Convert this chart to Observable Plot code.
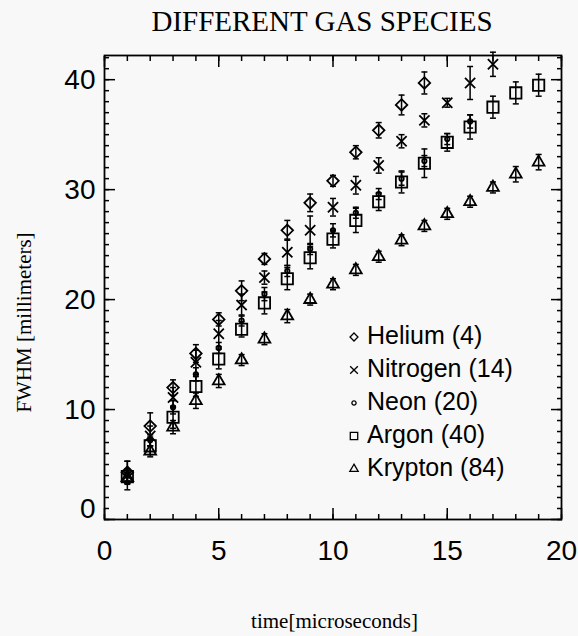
<!DOCTYPE html>
<html>
<head>
<meta charset="utf-8">
<script src="https://cdn.jsdelivr.net/npm/d3@7"></script>
<script src="https://cdn.jsdelivr.net/npm/@observablehq/plot@0.6"></script>
<style>
  html, body { margin: 0; padding: 0; background: #f8f8f8; }
  #wrap { position: relative; width: 578px; height: 636px; overflow: hidden; }
  #title { position: absolute; top: 7px; left: 322px; transform: translateX(-50%);
           font-family: "Liberation Serif", "DejaVu Serif", serif; font-size: 29px; line-height: 29px;
           white-space: nowrap; color: #000; }
  #legend { position: absolute; left: 0; top: 0; width: 578px; height: 636px; pointer-events: none; }
  .lrow { position: absolute; left: 346px; height: 33px; width: 200px; }
  .lrow svg { position: absolute; left: 0; top: 10px; }
  .lrow span { position: absolute; left: 21px; top: 0; font-family: "Liberation Sans", Arial, sans-serif;
               font-size: 25px; line-height: 33px; white-space: nowrap; color: #000; }
</style>
</head>
<body>
<div id="wrap">
  <div id="chart"></div>
  <div id="title">DIFFERENT GAS SPECIES</div>
  <div id="legend"></div>
</div>
<script>
// ---- data ----
const time = [1, 2, 3, 4, 5, 6, 7, 8, 9, 10, 11, 12, 13, 14, 15, 16, 17, 18, 19];

const helium      = [4.3, 8.5, 12.0, 15.1, 18.2, 20.8, 23.7, 26.3, 28.8, 30.8, 33.4, 35.4, 37.7, 39.7];
const heliumErr   = [1.0, 1.2, 0.7, 0.8, 0.6, 0.9, 0.5, 0.9, 0.8, 0.5, 0.6, 0.7, 0.9, 1.0];

const nitrogen    = [4.0, 7.6, 11.1, 14.3, 16.9, 19.5, 22.0, 24.3, 26.3, 28.4, 30.4, 32.2, 34.4, 36.3, 37.9, 39.7, 41.4];
const nitrogenErr = [1.3, 0.9, 0.9, 1.1, 1.2, 1.0, 0.6, 1.2, 1.3, 0.8, 0.8, 0.7, 0.6, 0.6, 0.4, 1.5, 1.1];

const neon        = [4.0, 7.2, 10.2, 13.2, 15.6, 18.1, 20.5, 22.6, 24.6, 26.3, 27.9, 29.6, 31.0, 32.6, 34.6, 36.2];
const neonErr     = [0.5, 0.5, 0.6, 0.6, 0.5, 0.5, 0.6, 0.5, 0.5, 0.6, 0.5, 0.5, 0.6, 0.5, 0.5, 0.6];

const argon       = [3.9, 6.7, 9.3, 12.1, 14.6, 17.3, 19.7, 21.9, 23.8, 25.5, 27.2, 28.9, 30.7, 32.4, 34.3, 35.7, 37.5, 38.8, 39.5];
const argonErr    = [0.7, 0.8, 1.0, 0.9, 0.9, 0.7, 1.0, 1.0, 1.0, 0.8, 1.1, 0.8, 1.0, 1.3, 0.8, 1.1, 1.0, 1.0, 1.0];

const krypton     = [3.8, 6.2, 8.4, 10.8, 12.6, 14.5, 16.4, 18.5, 20.0, 21.4, 22.7, 23.9, 25.4, 26.7, 27.8, 28.9, 30.2, 31.4, 32.5];
const kryptonErr  = [0.5, 0.5, 0.6, 0.7, 0.6, 0.5, 0.5, 0.6, 0.5, 0.5, 0.5, 0.5, 0.5, 0.5, 0.5, 0.5, 0.5, 0.7, 0.7];

const seriesNames = ["Helium (4)", "Nitrogen (14)", "Neon (20)", "Argon (40)", "Krypton (84)"];
const xMajorTicks = [0, 5, 10, 15, 20];
const yMajorTicks = [0, 10, 20, 30, 40];
const xMinorTicks = d3.range(0, 21, 1);
const yMinorTicks = d3.range(0, 43, 1);
const xLabel = "time[microseconds]";
const yLabel = "FWHM [millimeters]";

// ---- build ----
const specs = [
  {name: seriesNames[4], vals: krypton,  errs: kryptonErr,  symbol: "triangle2", r: 5.6},
  {name: seriesNames[3], vals: argon,    errs: argonErr,    symbol: "square2",   r: 7.2},
  {name: seriesNames[2], vals: neon,     errs: neonErr,     symbol: "circle",    r: 2.2},
  {name: seriesNames[1], vals: nitrogen, errs: nitrogenErr, symbol: "times",     r: 4.7},
  {name: seriesNames[0], vals: helium,   errs: heliumErr,   symbol: "diamond2",  r: 5.2}
];
const rows = specs.flatMap(s => s.vals.map((v, i) => ({series: s.name, t: time[i], v, e: s.errs[i]})));

const capSymbol = {draw(ctx, size) { const w = Math.sqrt(size / Math.PI); ctx.moveTo(-w, 0); ctx.lineTo(w, 0); }};
const sans = "Liberation Sans, Arial, sans-serif";
const serif = "Liberation Serif, DejaVu Serif, serif";
const blank = () => "";

const marks = [
  Plot.frame({stroke: "black", strokeWidth: 1.8}),
  // inward ticks, all four sides
  Plot.axisX(xMinorTicks, {anchor: "bottom", tickSize: -5, tickFormat: blank, label: null, strokeWidth: 1.5}),
  Plot.axisX(xMajorTicks, {anchor: "bottom", tickSize: -11, tickFormat: blank, label: null, strokeWidth: 1.5}),
  Plot.axisX(xMinorTicks, {anchor: "top", tickSize: -5, tickFormat: blank, label: null, strokeWidth: 1.5}),
  Plot.axisX(xMajorTicks, {anchor: "top", tickSize: -11, tickFormat: blank, label: null, strokeWidth: 1.5}),
  Plot.axisY(yMinorTicks, {anchor: "left", tickSize: -5, tickFormat: blank, label: null, strokeWidth: 1.5}),
  Plot.axisY(yMajorTicks, {anchor: "left", tickSize: -11, tickFormat: blank, label: null, strokeWidth: 1.5}),
  Plot.axisY(yMinorTicks, {anchor: "right", tickSize: -5, tickFormat: blank, label: null, strokeWidth: 1.5}),
  Plot.axisY(yMajorTicks, {anchor: "right", tickSize: -11, tickFormat: blank, label: null, strokeWidth: 1.5}),
  // tick labels
  Plot.axisX(xMajorTicks, {anchor: "bottom", tickSize: 0, tickPadding: 21, fontSize: 28, fontFamily: sans, label: null}),
  Plot.axisY(yMajorTicks.filter(d => d !== 0), {anchor: "left", tickSize: 0, tickPadding: 9, fontSize: 28, fontFamily: sans, label: null}),
  Plot.axisY(yMajorTicks.filter(d => d === 0), {anchor: "left", tickSize: 0, tickPadding: 9, dy: -10, fontSize: 28, fontFamily: sans, label: null}),
  // axis titles
  Plot.text([xLabel], {frameAnchor: "bottom", dy: 108, dx: 1.5, lineAnchor: "bottom", fontSize: 21, fontFamily: serif}),
  Plot.text([yLabel], {frameAnchor: "left", textAnchor: "middle", rotate: -90, dx: -80, dy: 35, fontSize: 21, fontFamily: serif}),
  // error bars
  Plot.ruleX(rows, {x: "t", y1: d => d.v - d.e, y2: d => d.v + d.e, stroke: "black", strokeWidth: 1.5}),
  Plot.dot(rows, {x: "t", y: d => d.v - d.e, symbol: capSymbol, r: 3, stroke: "black", fill: "none", strokeWidth: 1.5}),
  Plot.dot(rows, {x: "t", y: d => d.v + d.e, symbol: capSymbol, r: 3, stroke: "black", fill: "none", strokeWidth: 1.5}),
  // markers
  ...specs.map(s => Plot.dot(rows.filter(d => d.series === s.name),
    {x: "t", y: "v", symbol: s.symbol, r: s.r, stroke: "black", fill: "none", strokeWidth: 1.8}))
];

const chart = Plot.plot({
  width: 578,
  height: 636,
  marginTop: 55,
  marginBottom: 117,
  marginLeft: 104,
  marginRight: 17,
  style: {background: "#f8f8f8", color: "black", fontFamily: sans, overflow: "visible"},
  x: {domain: [0, 20]},
  y: {domain: [0, 42.2]},
  marks
});
document.getElementById("chart").appendChild(chart);

// ---- legend overlay ----
const legendSymbols = [
  {type: d3.symbolDiamond2, size: 40},
  {type: d3.symbolTimes, size: 40},
  {type: d3.symbolCircle, size: 14},
  {type: d3.symbolSquare2, size: 70},
  {type: d3.symbolTriangle2, size: 50}
];
const legend = d3.select("#legend");
seriesNames.forEach((name, i) => {
  const row = legend.append("div").attr("class", "lrow").style("top", (318.8 + i * 33) + "px");
  const svg = row.append("svg").attr("width", 16).attr("height", 16).attr("viewBox", "-8 -8 16 16");
  svg.append("path").attr("d", d3.symbol(legendSymbols[i].type, legendSymbols[i].size)())
    .attr("fill", "none").attr("stroke", "black").attr("stroke-width", 1.3);
  row.append("span").text(name);
});
</script>
</body>
</html>
